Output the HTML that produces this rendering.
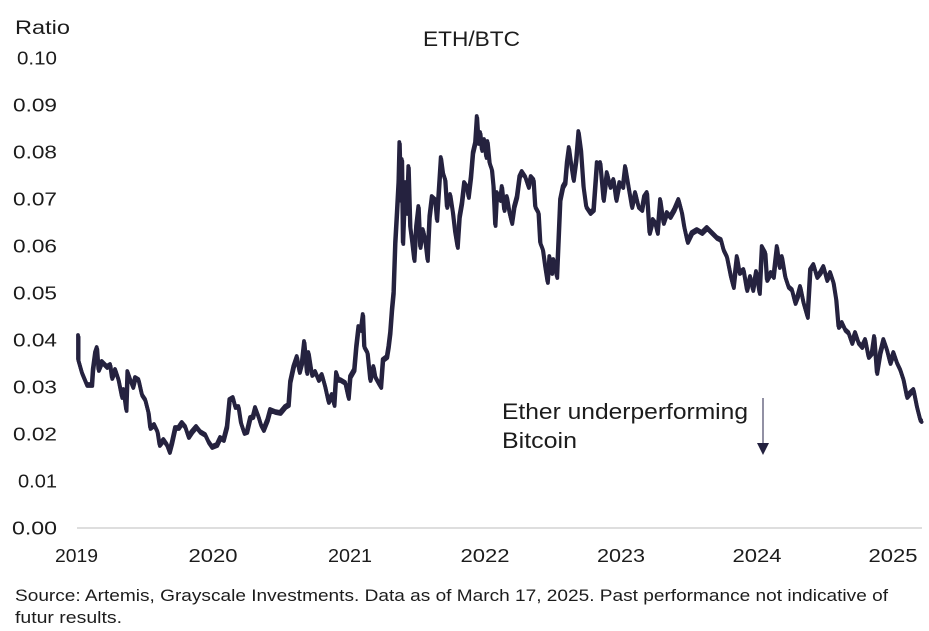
<!DOCTYPE html>
<html>
<head>
<meta charset="utf-8">
<style>
html,body{margin:0;padding:0;background:#fff;}
svg{display:block;}
text{font-family:"Liberation Sans",sans-serif;fill:#1c1c1c;}
</style>
</head>
<body>
<svg width="929" height="631" viewBox="0 0 929 631" xmlns="http://www.w3.org/2000/svg" xmlns:xlink="http://www.w3.org/1999/xlink">
<rect x="0" y="0" width="929" height="631" fill="#fff"/>
<text x="15" y="34" font-size="19" textLength="55" lengthAdjust="spacingAndGlyphs">Ratio</text>
<text x="423" y="46" font-size="21" textLength="97" lengthAdjust="spacingAndGlyphs">ETH/BTC</text>

<g font-size="18" text-anchor="end">
<text x="57" y="64.5" textLength="40" lengthAdjust="spacingAndGlyphs">0.10</text>
<text x="57" y="111.5" textLength="44" lengthAdjust="spacingAndGlyphs">0.09</text>
<text x="57" y="158.5" textLength="44" lengthAdjust="spacingAndGlyphs">0.08</text>
<text x="57" y="205.5" textLength="44" lengthAdjust="spacingAndGlyphs">0.07</text>
<text x="57" y="252.5" textLength="44" lengthAdjust="spacingAndGlyphs">0.06</text>
<text x="57" y="299.5" textLength="44" lengthAdjust="spacingAndGlyphs">0.05</text>
<text x="57" y="346.5" textLength="44" lengthAdjust="spacingAndGlyphs">0.04</text>
<text x="57" y="393.5" textLength="44" lengthAdjust="spacingAndGlyphs">0.03</text>
<text x="57" y="440.5" textLength="44" lengthAdjust="spacingAndGlyphs">0.02</text>
<text x="57" y="487.5" textLength="39" lengthAdjust="spacingAndGlyphs">0.01</text>
<text x="57" y="534.5" textLength="45" lengthAdjust="spacingAndGlyphs">0.00</text>
</g>

<line x1="77" y1="528" x2="922" y2="528" stroke="#d4d4d4" stroke-width="1.5"/>

<g font-size="18" text-anchor="middle">
<text x="76.5" y="562" textLength="43" lengthAdjust="spacingAndGlyphs">2019</text>
<text x="213" y="562" textLength="49" lengthAdjust="spacingAndGlyphs">2020</text>
<text x="350" y="562" textLength="44" lengthAdjust="spacingAndGlyphs">2021</text>
<text x="485" y="562" textLength="49" lengthAdjust="spacingAndGlyphs">2022</text>
<text x="621" y="562" textLength="48" lengthAdjust="spacingAndGlyphs">2023</text>
<text x="757" y="562" textLength="49" lengthAdjust="spacingAndGlyphs">2024</text>
<text x="893" y="562" textLength="49" lengthAdjust="spacingAndGlyphs">2025</text>
</g>

<text x="15" y="601" font-size="17" textLength="873" lengthAdjust="spacingAndGlyphs">Source: Artemis, Grayscale Investments. Data as of March 17, 2025. Past performance not indicative of</text>
<text x="15" y="623" font-size="17" textLength="107" lengthAdjust="spacingAndGlyphs">futur results.</text>

<text x="502" y="419" font-size="22" textLength="246" lengthAdjust="spacingAndGlyphs">Ether underperforming</text>
<text x="502" y="448" font-size="22" textLength="75" lengthAdjust="spacingAndGlyphs">Bitcoin</text>

<line x1="763" y1="398" x2="763" y2="446" stroke="#6e6c86" stroke-width="1.5"/>
<polygon points="757,443 769,443 763,455" fill="#23213f"/>

<defs>
<polyline id="s" fill="none" stroke="#25223f" stroke-width="3.8" stroke-linejoin="round" stroke-linecap="round" points="
78,336 78,360 81.7,373 86.7,385 91.7,385 92.7,370 95,353 96.7,348 98.3,370 101.7,362 106.7,367 110,365 111.7,378 115,370 118.3,380 121.7,397 123.3,390 126,410 127.3,372 130,380 132.7,387 135,378 138.3,380 141.7,395 145,400 148.3,413 150,428 154,425 157.3,432 159.3,445 163.3,440 166.7,445 169.3,452 171.7,443 175,428 178.3,428 181.7,423 185,427 188.3,437 191.7,432 196,427 200,432 205,435 208.3,442 211.7,447 216.7,445 220,438 223.3,440 226.7,427 229.3,400 232.7,398 235,407 238.3,407 240.7,423 244,433 246.7,432 250,418 252.7,417 255,408 258.3,417 260.7,425 263.3,430 267.3,420 270,410 275,412 280,413 285,407 288.3,405 290,382 293.3,367 296.7,357 299.3,372 301.7,363 304,342 306.7,373 308.3,353 311.7,375 315,372 318.3,380 321.7,375 325,387 328.3,402 331.7,395 334,405 336,373 338.3,380 340,380 345,383 348.3,398 350,377 354,370 356,347 358.3,327 360.7,330 362.7,315 364,347 367.3,353 370,380 373.3,367 375,377 378.3,383 380.7,387 382.7,360 386.7,357 388.3,347 390,333 391.7,310 393.3,293 395,243 396.7,213 398.3,183 399.3,143 400.7,200 401.7,160 402.7,243 405,183 406.7,213 408.3,167 410,227 411.7,240 414,260 416,227 418.3,207 420,247 422.7,230 425,240 427.3,260 429.3,217 431.7,197 435,200 436.7,220 439.3,180 440.7,158 442.7,173 445,180 446.7,207 450,195 452.7,213 455,233 457.3,247 459.3,217 461.7,203 464,183 466.7,187 468.3,197 470.7,177 472.7,153 475,143 476.7,117 478.3,143 480,133 481.7,150 484,140 486,157 487.3,142 489.3,163 491.7,170 493.3,187 495,225 496.7,193 500,200 501.7,187 504,210 506.7,197 509.3,213 511.7,223 514,207 516.7,197 519.3,177 521.7,172 525,177 528.3,187 530.7,177 533.3,180 535,207 538.3,213 540,243 542.7,250 545,267 547.3,282 549.3,257 551.7,273 553.3,260 556.7,277 558.3,240 560,200 562.7,187 565,183 566.7,163 568.7,148 570.7,163 573.3,180 576,160 578.3,132 580.7,150 583.3,187 586,207 590,213 593.3,210 596.7,163 599.3,167 600,163 603.3,200 606.7,173 610,187 613.3,180 616,200 619.3,183 622.7,187 625,167 628.3,187 631.7,207 635,193 638.3,207 641.7,210 644,197 646.7,193 649.3,233 652.7,220 655,223 657.3,233 660,200 663.3,223 666.7,213 670,217 674,210 678.3,200 681.7,213 684,227 687.3,242 691.7,233 696.7,230 701.7,233 706.7,228 711.7,233 716.7,238 720.7,240 723.3,250 726.7,257 730.7,277 733.3,287 736.7,257 739.3,273 743.3,270 746.7,290 750,277 752.7,290 756,272 759.3,293 761.7,247 765,253 766.7,280 770.7,273 773.3,277 776.7,247 779.3,267 781.7,257 785,277 788.3,287 791.7,290 795,303 797.3,297 800,287 803.3,303 807.3,317 810,270 813.3,265 816.7,277 820,273 823.3,267 826.7,280 830,273 833.3,283 836,300 838.3,327 841.7,323 845,330 848.3,333 851.7,343 855,333 858.3,343 861.7,347 865,340 868.3,357 871.7,353 874,337 876.7,373 880,353 883.3,340 886.7,350 890,363 893.3,353 896.7,363 900,370 903.3,380 906.7,397 910,393 913.3,390 916.7,407 920,420 921,421"/>
</defs>
<use xlink:href="#s" href="#s" transform="translate(0,-1)"/>
<use xlink:href="#s" href="#s" transform="translate(0.6,1)"/>
</svg>
</body>
</html>
